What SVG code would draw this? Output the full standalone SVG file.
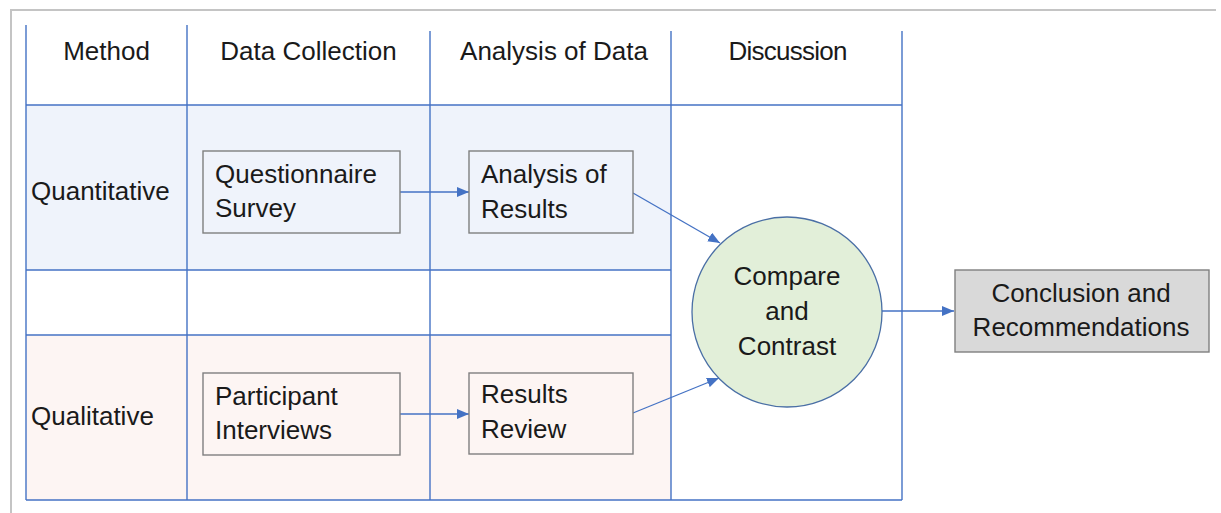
<svg xmlns="http://www.w3.org/2000/svg" width="1221" height="513" viewBox="0 0 1221 513">
  <style>
    text { font-family: "Liberation Sans", Arial, sans-serif; font-size: 26px; fill: #1a1a1a; }
    .mid { text-anchor: middle; }
    .grid { stroke: #4472c4; stroke-width: 1.4; fill: none; }
    .box { stroke: #7f7f7f; stroke-width: 1.4; }
    .conn { stroke: #4472c4; stroke-width: 1.3; fill: none; marker-end: url(#arrow); }
  </style>
  <defs>
    <marker id="arrow" markerUnits="userSpaceOnUse" markerWidth="12" markerHeight="10" viewBox="0 0 12 10" refX="12" refY="5" orient="auto">
      <path d="M0,0 L12,5 L0,10 Z" fill="#4472c4"/>
    </marker>
  </defs>

  <rect width="1221" height="513" fill="#ffffff"/>
  <!-- page frame -->
  <path d="M11,513 V10 H1216" fill="none" stroke="#c4c4c4" stroke-width="2"/>

  <!-- row bands -->
  <rect x="26" y="105" width="645" height="165" fill="#eff3fb"/>
  <rect x="26" y="335" width="645" height="165" fill="#fdf5f3"/>

  <!-- table grid -->
  <g id="table" class="grid">
    <line x1="26" y1="25" x2="26" y2="500"/>
    <line x1="187" y1="25" x2="187" y2="500"/>
    <line x1="430" y1="31" x2="430" y2="500"/>
    <line x1="671" y1="31" x2="671" y2="500"/>
    <line x1="902" y1="31" x2="902" y2="500"/>
    <line x1="26" y1="105" x2="902" y2="105"/>
    <line x1="26" y1="270" x2="671" y2="270"/>
    <line x1="26" y1="335" x2="671" y2="335"/>
    <line x1="26" y1="500" x2="902" y2="500"/>
  </g>

  <!-- column headers -->
  <g id="headers">
    <text class="mid" x="106.5" y="60">Method</text>
    <text class="mid" x="308.5" y="60">Data Collection</text>
    <text class="mid" x="554" y="60">Analysis of Data</text>
    <text class="mid" x="788" y="60" textLength="119">Discussion</text>
  </g>

  <!-- row labels -->
  <g id="rows">
    <text x="31" y="200">Quantitative</text>
    <text x="31" y="425">Qualitative</text>
  </g>

  <!-- connectors -->
  <g id="connectors">
    <line class="conn" x1="400" y1="192" x2="469" y2="192"/>
    <line class="conn" x1="400" y1="414" x2="469" y2="414"/>
    <line class="conn" x1="633" y1="193" x2="720" y2="243"/>
    <line class="conn" x1="633" y1="413" x2="719" y2="378"/>
    <line class="conn" x1="882" y1="311" x2="954" y2="311"/>
  </g>

  <g id="questionnaire-survey">
    <rect class="box" x="203" y="151" width="197" height="82" fill="#eff3fb"/>
    <text x="215" y="183">Questionnaire</text>
    <text x="215" y="217">Survey</text>
  </g>

  <g id="analysis-of-results">
    <rect class="box" x="469" y="151" width="164" height="82" fill="#eff3fb"/>
    <text x="481" y="183">Analysis of</text>
    <text x="481" y="218">Results</text>
  </g>

  <g id="participant-interviews">
    <rect class="box" x="203" y="373" width="197" height="82" fill="#fdf5f3"/>
    <text x="215" y="405">Participant</text>
    <text x="215" y="439">Interviews</text>
  </g>

  <g id="results-review">
    <rect class="box" x="469" y="373" width="164" height="81" fill="#fdf5f3"/>
    <text x="481" y="403">Results</text>
    <text x="481" y="438">Review</text>
  </g>

  <g id="compare-and-contrast">
    <circle cx="787" cy="312" r="95" fill="#e2efd9" stroke="#4a6fa5" stroke-width="1.3"/>
    <text class="mid" x="787" y="285">Compare</text>
    <text class="mid" x="787" y="320">and</text>
    <text class="mid" x="787" y="355">Contrast</text>
  </g>

  <g id="conclusion">
    <rect class="box" x="955" y="270" width="254" height="82" fill="#d9d9d9"/>
    <text class="mid" x="1081" y="302">Conclusion and</text>
    <text class="mid" x="1081" y="336">Recommendations</text>
  </g>
</svg>
